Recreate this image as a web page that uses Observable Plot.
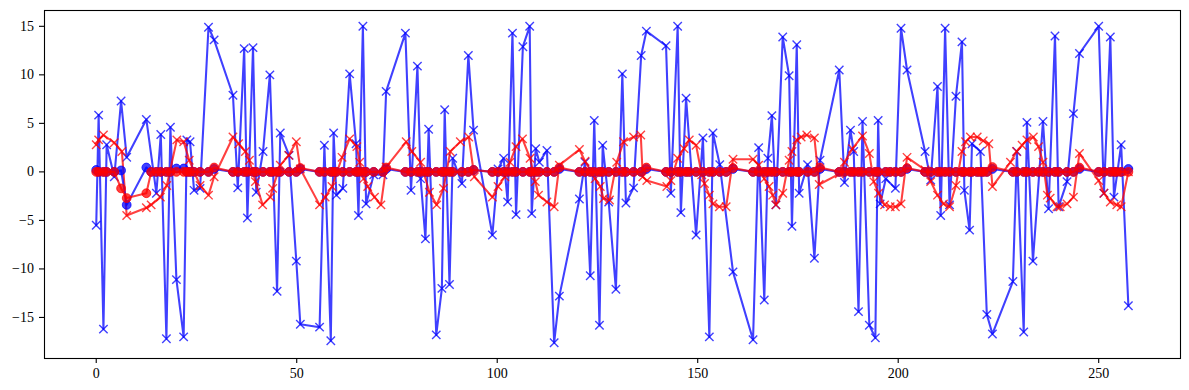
<!DOCTYPE html>
<html><head><meta charset="utf-8">
<script src="https://cdn.jsdelivr.net/npm/d3@7"></script>
<script src="https://cdn.jsdelivr.net/npm/@observablehq/plot@0.6"></script>
<style>body{margin:0;background:#fff}</style>
</head><body><div id="chart"></div>
<script>
// Blue series (x markers)
const blueX = [0,0.6,1.8,2.6,4.5,6.2,7.6,12.5,15.0,16.1,17.5,18.5,20.0,21.8,22.6,23.4,24.4,25.9,28.0,29.4,
  34.1,35.3,36.9,37.7,39.1,39.9,41.6,43.3,45.1,45.9,48.1,49.9,50.9,55.7,56.9,58.5,59.2,59.9,61.5,63.2,
  64.8,65.4,66.5,67.3,69.2,71.5,72.3,77.1,78.5,80.1,80.9,82.1,82.9,84.8,86.2,86.9,88.1,88.9,91.2,92.8,
  94.1,98.8,100.2,101.6,102.6,103.8,104.7,106.4,108.1,108.6,109.6,110.5,112.4,114.2,115.5,120.5,121.9,123.2,124.2,125.5,
  126.3,127.8,129.6,131.2,132.1,134.0,135.9,137.2,142.1,143.3,145.0,145.8,147.1,149.6,151.3,152.9,153.8,155.5,158.8,163.8,
  165.2,166.6,167.5,168.5,169.5,171.2,172.8,173.5,174.7,175.3,177.4,179.1,180.5,185.3,186.6,188.1,188.9,190.1,191.1,192.8,
  194.3,195.0,195.5,196.9,199.3,200.7,202.2,206.7,208.1,209.8,210.6,211.7,212.8,214.4,215.9,216.5,217.8,218.4,220.5,222.1,
  223.5,228.6,229.6,231.3,232.1,233.6,236.1,237.5,239.1,240.0,242.1,243.7,245.2,250.0,251.3,252.9,253.8,255.6,257.4];
const blueY = [-5.5,5.85,-16.2,2.8,-0.5,7.3,1.5,5.4,-2.2,3.85,-17.2,4.6,-11.1,-17.0,3.3,3.1,-1.9,-1.7,14.9,13.6,
  7.9,-1.65,12.7,-4.75,12.8,-2.1,2.1,10.0,-12.3,4.0,1.7,-9.2,-15.7,-16.0,2.75,-17.4,4.0,-2.4,-1.7,10.1,
  2.9,-4.5,15.0,-3.3,-0.3,-0.3,8.3,14.3,-1.9,10.9,-0.7,-6.9,4.4,-16.8,-12.0,6.4,-11.6,1.4,-1.2,12.0,
  4.3,-6.5,0.3,1.4,-3.1,14.3,-4.4,12.9,15.0,-4.3,2.4,1.0,2.2,-17.6,-12.8,-2.8,1.0,-10.7,5.3,-15.8,
  2.75,-3.1,-12.1,10.1,-3.2,-1.65,12.0,14.5,13.0,-2.2,15.0,-4.2,7.6,-6.5,3.5,-17.0,4.0,0.75,-10.3,-17.3,
  2.5,-13.2,1.4,5.8,-3.4,13.9,9.9,-5.6,13.1,-2.2,0.75,-8.9,1.2,10.5,-1.1,4.3,2.1,-14.4,5.2,-15.8,
  -17.1,5.3,-3.3,-0.7,-1.7,14.8,10.5,2.1,-0.85,8.8,-4.5,14.8,-3.4,7.8,13.4,-1.9,-6.0,2.9,2.1,-14.7,
  -16.7,-11.3,2.1,-16.5,5.1,-9.2,5.2,-3.8,14.0,-3.6,-1.0,6.0,12.2,15.0,-2.2,13.9,-2.6,2.8,-13.8];

// Red series (x markers)
const redX = [0,0.6,1.8,4.5,6.4,7.6,12.5,13.7,16.0,17.6,20.1,21.8,23.2,25.9,28.0,29.4,34.1,35.5,37.2,38.2,
  39.7,41.5,43.4,44.0,45.9,48.0,49.9,50.9,55.7,57.1,58.8,61.3,63.2,65.0,65.7,66.7,67.7,69.4,71.0,72.3,
  77.3,78.7,80.9,83.1,84.9,86.6,88.3,90.8,92.9,94.3,98.8,100.2,101.9,103.2,104.7,106.3,108.2,109.5,110.3,112.4,
  114.2,115.5,120.5,121.9,124.4,125.7,126.5,128.0,129.8,131.5,134.0,135.8,136.3,137.3,142.3,143.3,145.0,146.6,147.9,149.6,
  151.0,151.7,152.9,153.8,155.4,157.1,158.8,163.8,165.2,166.6,167.8,168.7,169.5,171.2,172.8,173.5,174.7,175.8,177.2,179.1,
  180.3,185.3,186.6,188.6,191.1,192.8,193.9,195.1,196.6,198.0,199.3,200.7,202.2,206.7,208.1,209.8,211.3,212.8,214.4,215.9,
  216.8,218.0,219.7,221.2,222.6,223.5,228.0,229.5,230.9,232.1,233.7,235.0,236.1,237.2,237.9,239.6,240.4,242.1,243.7,245.2,
  250.0,251.3,252.9,254.5,255.6,257.4];
const redY = [2.8,3.3,3.8,3.0,2.1,-4.5,-3.7,-3.4,-2.6,-1.4,3.3,3.1,1.2,-1.4,-2.4,-0.5,3.6,2.9,2.1,1.2,
  -1.0,-3.4,-2.6,-1.7,0.7,1.7,3.1,0.3,-3.4,-2.6,-1.5,1.5,3.4,2.6,1.0,-0.7,-1.5,-2.6,-3.4,0.5,
  3.1,2.1,1.0,-2.1,-3.4,-1.7,2.1,3.1,3.6,-0.5,-2.6,-1.5,-0.5,1.0,2.6,3.4,1.4,-1.0,-2.4,-3.1,
  -3.6,0.7,2.3,1.1,-0.7,-1.5,-2.75,-2.9,1.0,3.1,3.6,3.8,-0.5,-0.9,-1.5,-0.9,1.4,2.4,3.3,2.75,
  -0.3,-1.2,-2.4,-3.3,-3.6,-3.6,1.3,1.3,0.7,-0.7,-1.5,-2.4,-3.4,-2.2,1.2,2.1,3.3,3.6,3.8,3.5,
  -1.3,-0.2,1.0,2.4,3.7,1.9,-1.0,-2.2,-3.4,-3.6,-3.6,-3.3,1.5,0.2,-1.0,-2.4,-3.3,-3.6,-1.4,2.1,
  3.1,3.6,3.6,3.2,2.9,-1.5,1.0,2.1,2.75,3.3,3.6,2.6,1.0,-2.4,-2.7,-3.6,-3.6,-3.3,-2.6,1.9,
  -0.9,-2.2,-3.1,-3.4,-3.6,0];

// Dot series (circles), shared x positions
const dotX = [0,0.6,1.8,2.6,4.5,6.2,7.6,
  12.5,13.7,15.0,16.1,17.5,18.5,20.0,21.8,22.6,23.4,24.4,25.9,28.0,29.4,
  34.1,35.3,36.9,37.7,39.1,39.9,41.6,43.3,44.0,45.1,45.9,48.1,49.9,50.9,
  55.7,56.9,58.5,59.2,59.9,61.5,63.2,64.8,65.4,66.5,67.3,69.2,71.5,72.3,
  77.1,78.5,80.1,80.9,82.1,82.9,84.8,86.2,86.9,88.1,88.9,91.2,92.8,94.1,
  98.8,100.2,101.6,102.6,103.8,104.7,106.4,108.1,108.6,109.6,110.5,112.4,114.2,115.5,
  120.5,121.9,123.2,124.2,125.5,126.3,127.8,129.6,131.2,132.1,134.0,135.9,137.2,
  142.1,143.3,145.0,145.8,147.1,147.9,149.6,151.3,152.9,153.8,155.5,157.1,158.8,
  163.8,165.2,166.6,167.5,168.5,169.5,171.2,172.8,173.5,174.7,175.3,177.4,179.1,180.5,
  185.3,186.6,188.1,188.9,190.1,191.1,192.8,194.3,195.0,196.9,198.0,199.3,200.7,202.2,
  206.7,208.1,209.8,210.6,211.7,212.8,214.4,215.9,216.5,217.8,218.4,219.7,220.5,221.2,222.1,223.5,
  228.6,229.6,231.3,232.1,233.6,235.0,236.1,237.5,239.1,240.0,242.1,243.7,245.2,
  250.0,251.3,252.9,253.8,254.5,255.6,257.4];
const blueDotY = [0.2,0,0,0,0,0.15,-3.4,
  0.45,0,0,0,0,0,0.35,0.35,0,0,0,0,0,0.3,
  0,0,0,0,0,0,0,0,0,0,0,0,0,0.3,
  0,0,0,0,0,0,0,0,0,0,0,0,0,0.3,
  0,0,0,0,0,0,0,0,0,0,0,0,0,0.2,
  0,0,0,0,0,0,0,0,0,0,0,0,0,0.3,
  0,0,0,0,0,0,0,0,0,0,0,0,0.3,
  0,0,0,0,0,0,0,0,0,0,0,0,0.3,
  0,0,0,0,0,0,0,0,0,0,0,0,0,0.3,
  0,0,0,0,0,0,0,0,0,0,0,0,0,0.3,
  0,0,0,0,0,0,0,0,0,0,0,0,0,0,0,0.3,
  0,0,0,0,0,0,0,0,0,0,0,0,0.3,
  0,0,0,0,0,0,0.3];
const redDotY = [0,0,0,0,0,-1.7,-2.7,
  -2.2,0,0,0,0,0,0,0,0,0,0,0,0,0.45,
  0,0,0,0,0,0,0,0,0,0,0,0,0,0.4,
  0,0,0,0,0,0,0,0,0,0,0,0,0,0.45,
  0,0,0,0,0,0,0,0,0,0,0,0,0,0.2,
  0,0,0,0,0,0,0,0,0,0,0,0,0,0.45,
  0,0,0,0,0,0,0,0,0,0,0,0,0.45,
  0,0,0,0,0,0,0,0,0,0,0,0,0.4,
  0,0,0,0,0,0,0,0,0,0,0,0,0,0.45,
  0,0,0,0,0,0,0,0,0,0,0,0,0,0.4,
  0,0,0,0,0,0,0,0,0,0,0,0,0,0,0,0.5,
  0,0,0,0,0,0,0,0,0,0,0,0,0.45,
  0,0,0,0,0,0,0];

const xTicks = [0, 50, 100, 150, 200, 250];
const yTicks = [-15, -10, -5, 0, 5, 10, 15];

const blue = blueX.map((x, i) => ({x, y: blueY[i]}));
const red = redX.map((x, i) => ({x, y: redY[i]}));
const bdots = dotX.map((x, i) => ({x, y: blueDotY[i]}));
const rdots = dotX.map((x, i) => ({x, y: redDotY[i]}));

const B = "#0000ff", R = "#ff0000";
const lw = 2.08, op = 0.75;
const fmt = d => d < 0 ? "\u2212" + (-d) : String(d);

const chart = Plot.plot({
  width: 1189, height: 390,
  marginLeft: 44, marginRight: 9, marginTop: 10, marginBottom: 32,
  x: {domain: [-12.9, 270.4]},
  y: {domain: [-19.23, 16.63]},
  style: {fontFamily: "'Liberation Serif', serif", fontSize: "14px", background: "#fff", color: "#000"},
  marks: [
    Plot.line(blue, {x: "x", y: "y", stroke: B, strokeOpacity: op, strokeWidth: lw}),
    Plot.dot(blue, {x: "x", y: "y", symbol: "times", r: 3.9, stroke: B, strokeOpacity: op, strokeWidth: 1.4}),
    Plot.line(red, {x: "x", y: "y", stroke: R, strokeOpacity: op, strokeWidth: lw}),
    Plot.dot(red, {x: "x", y: "y", symbol: "times", r: 3.9, stroke: R, strokeOpacity: op, strokeWidth: 1.4}),
    Plot.line(bdots, {x: "x", y: "y", stroke: B, strokeOpacity: op, strokeWidth: lw}),
    Plot.dot(bdots, {x: "x", y: "y", r: 4.4, fill: B, fillOpacity: op, stroke: B, strokeOpacity: op, strokeWidth: 1}),
    Plot.line(rdots, {x: "x", y: "y", stroke: R, strokeOpacity: op, strokeWidth: lw}),
    Plot.dot(rdots, {x: "x", y: "y", r: 4.4, fill: R, fillOpacity: op, stroke: R, strokeOpacity: op, strokeWidth: 1}),
    Plot.axisX(xTicks, {tickSize: 5, tickPadding: 5, tickFormat: fmt, label: null, strokeWidth: 1.1}),
    Plot.axisY(yTicks, {tickSize: 5, tickPadding: 5.5, tickFormat: fmt, label: null, strokeWidth: 1.1}),
    Plot.frame({stroke: "#000", strokeWidth: 1.1})
  ]
});
document.getElementById("chart").appendChild(chart);
</script>
</body></html>
